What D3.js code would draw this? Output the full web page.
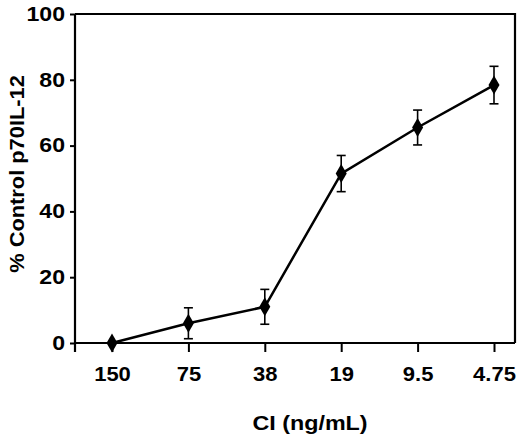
<!DOCTYPE html>
<html>
<head>
<meta charset="utf-8">
<script src="https://cdn.jsdelivr.net/npm/d3@7"></script>
<style>
body{margin:0;background:#fff;}
text{font-family:"Liberation Sans",Arial,sans-serif;font-weight:bold;fill:#000;}
</style>
</head>
<body>
<svg id="chart" width="520" height="436"></svg>
<script>
const categories = ["150","75","38","19","9.5","4.75"];
const meanValues = [0, 6, 11, 51.5, 65.5, 78.4];
const errorValues = [0, 4.7, 5.3, 5.5, 5.3, 5.7];
const yTicks = [0,20,40,60,80,100];
const xLabel = "CI (ng/mL)";
const yLabel = "% Control p70IL-12";

const svg = d3.select("#chart");
const pL = 75, pR = 515, pT = 14, pB = 343;

const x = d3.scalePoint().domain(categories).range([112, 494]);
const y = d3.scaleLinear().domain([0,100]).range([pB, pT]);

// frame top and right
svg.append("path")
  .attr("d", `M${pL},${pT}H${pR}V${pB}`)
  .attr("fill","none").attr("stroke","#000").attr("stroke-width",2.2);

// y axis
const yAx = svg.append("g").attr("transform",`translate(${pL},0)`)
  .call(d3.axisLeft(y).tickValues(yTicks).tickSize(5).tickPadding(5).tickFormat(d3.format("d")));
yAx.select(".domain").attr("stroke-width",2.2).attr("d",`M0,${pT}V${pB+9}`);
yAx.selectAll(".tick line").attr("stroke-width",2);
yAx.selectAll(".tick text").style("font-size","21px").attr("dy","0.3em")
  .attr("x",-9.1).attr("transform","scale(1.1,1)");

// x axis
const xAx = svg.append("g").attr("transform",`translate(0,${pB})`)
  .call(d3.axisBottom(x).tickSize(9).tickPadding(15));
xAx.select(".domain").attr("stroke-width",2.2).attr("d",`M${pL},0H${pR}`);
xAx.selectAll(".tick line").attr("stroke-width",2);
xAx.selectAll(".tick text").style("font-size","20px").attr("transform","scale(1.1,1)");

const data = categories.map((c,i)=>({c, v:meanValues[i], e:errorValues[i]}));

// line
svg.append("path").datum(data)
  .attr("d", d3.line().x(d=>x(d.c)).y(d=>y(d.v)))
  .attr("fill","none").attr("stroke","#000").attr("stroke-width",2.5);

// error bars
const eb = svg.append("g").selectAll("g").data(data.filter(d=>d.e>0)).join("g");
eb.append("line").attr("x1",d=>x(d.c)).attr("x2",d=>x(d.c))
  .attr("y1",d=>y(d.v+d.e)).attr("y2",d=>y(d.v-d.e)).attr("stroke","#000").attr("stroke-width",1.6);
eb.append("line").attr("x1",d=>x(d.c)-4.5).attr("x2",d=>x(d.c)+4.5)
  .attr("y1",d=>y(d.v+d.e)).attr("y2",d=>y(d.v+d.e)).attr("stroke","#000").attr("stroke-width",1.6);
eb.append("line").attr("x1",d=>x(d.c)-4.5).attr("x2",d=>x(d.c)+4.5)
  .attr("y1",d=>y(d.v-d.e)).attr("y2",d=>y(d.v-d.e)).attr("stroke","#000").attr("stroke-width",1.6);

// diamonds
svg.append("g").selectAll("path").data(data).join("path")
  .attr("transform",d=>`translate(${x(d.c)},${y(d.v)})`)
  .attr("d","M0,-9.5L5.5,0L0,9.5L-5.5,0Z").attr("fill","#000");

// labels
svg.append("text").attr("transform","translate(310,430) scale(1.11,1)").attr("text-anchor","middle")
  .style("font-size","21px").text(xLabel);
svg.append("text").attr("transform","translate(24,174) rotate(-90) scale(1.04,1)").attr("text-anchor","middle")
  .style("font-size","21px").text(yLabel);
</script>
</body>
</html>
